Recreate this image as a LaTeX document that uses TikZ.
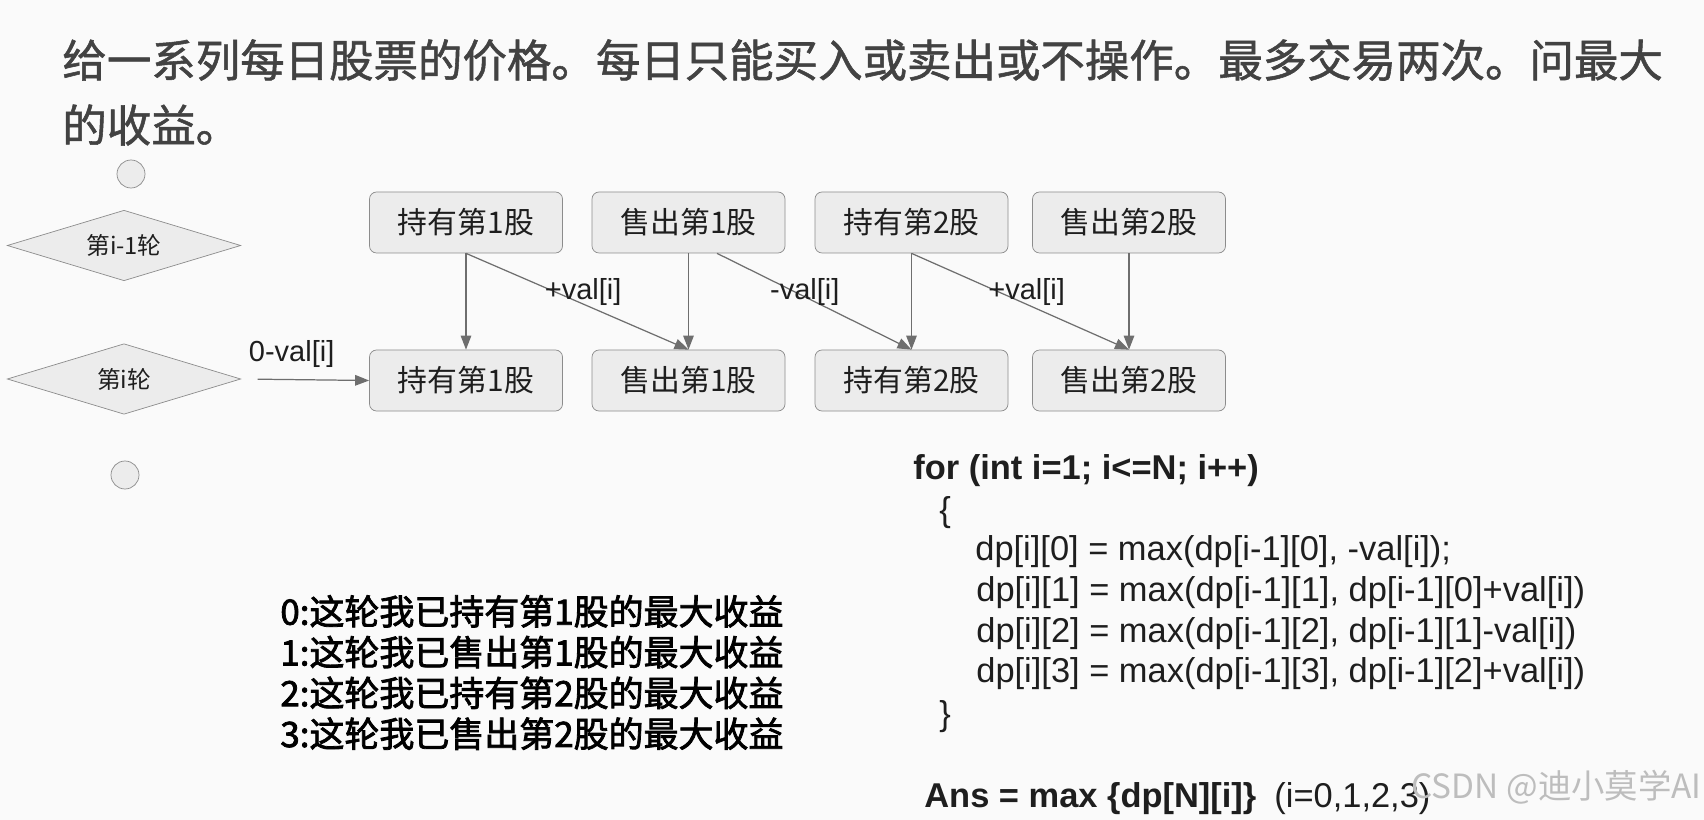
\documentclass[tikz,border=0pt]{standalone}
\usepackage{fontspec}
\setmainfont{Liberation Sans}
\newfontfamily\cjk{Noto Sans CJK SC}
\newfontfamily\cjkmid[FakeBold=1.2]{Noto Sans CJK SC}
\newfontfamily\cjkheavy[FakeBold=2.2]{Noto Sans CJK SC}
\usepackage{xcolor}
\usetikzlibrary{shapes.geometric,arrows.meta,positioning}
\definecolor{paper}{HTML}{FAFAFA}
\definecolor{boxfill}{HTML}{ECECEC}
\definecolor{boxline}{HTML}{8C8C8C}
\definecolor{edge}{HTML}{6E6E6E}
\definecolor{ink}{HTML}{1E1E1E}
\definecolor{headink}{HTML}{424242}
\definecolor{wmark}{HTML}{BDBDBD}

\begin{document}
\begin{tikzpicture}[
    stock/.style={rectangle, rounded corners=4pt, minimum width=3.86cm, minimum height=1.22cm, draw=boxline, fill=boxfill, text=ink, font=\cjk\fontsize{17}{20}\selectfont},
    phase/.style={diamond, aspect=3.3, minimum width=4.67cm, minimum height=1.41cm, inner sep=0pt, draw=boxline, fill=boxfill, text=ink, font=\cjk\fontsize{13.5}{16}\selectfont},
    endpt/.style={circle, minimum size=0.56cm, inner sep=0pt, draw=boxline, fill=boxfill},
    arrow/.style={-{Triangle[length=8pt,width=6pt]}, draw=edge, line width=0.7pt},
    lbl/.style={text=ink, inner sep=1pt, font=\fontsize{16.5}{19}\selectfont},
    code/.style={anchor=west, inner sep=0pt, text=ink, font=\fontsize{19.6}{23}\selectfont},
]
\fill[paper] (0,0) rectangle (34.08,-16.4);
\useasboundingbox (0,0) rectangle (34.08,-16.4);

% Question
\node[anchor=west, inner sep=0pt, text=headink, font=\cjkmid\fontsize{25.3}{30}\selectfont] (title1) at (1.24,-1.2) {给一系列每日股票的价格。每日只能买入或卖出或不操作。最多交易两次。问最大};
\node[anchor=west, inner sep=0pt, text=headink, font=\cjkmid\fontsize{25.3}{30}\selectfont] (title2) at (1.24,-2.5) {的收益。};

% Rounds
\node[endpt] (dotup) at (2.62,-3.48) {};
\node[phase] (prev) at (2.48,-4.91) {第i-1轮};
\node[phase] (cur) at (2.48,-7.58) {第i轮};
\node[endpt] (dotdown) at (2.5,-9.5) {};

% Round i-1
\node[stock] (hold1p) at (9.32,-4.45) {持有第1股};
\node[stock] (sell1p) at (13.77,-4.45) {售出第1股};
\node[stock] (hold2p) at (18.23,-4.45) {持有第2股};
\node[stock] (sell2p) at (22.58,-4.45) {售出第2股};

% Round i
\node[stock] (hold1) at (9.32,-7.61) {持有第1股};
\node[stock] (sell1) at (13.77,-7.61) {售出第1股};
\node[stock] (hold2) at (18.23,-7.61) {持有第2股};
\node[stock] (sell2) at (22.58,-7.61) {售出第2股};

% Transitions
\draw[arrow, shorten <=0.33cm] (cur.east) -- (hold1.west) node[lbl, midway, above=0.2cm, xshift=-0.27cm]{0-val[i]};
\draw[arrow] (hold1p) -- (hold1);
\draw[arrow] (sell1p) -- (sell1);
\draw[arrow] (hold2p) -- (hold2);
\draw[arrow] (sell2p) -- (sell2);
\draw[arrow] (hold1p.south) -- (sell1.north) node[lbl, pos=0.4, anchor=west, xshift=-0.25cm]{+val[i]};
\draw[arrow] ([xshift=0.57cm]sell1p.south) -- (hold2.north) node[lbl, pos=0.4, xshift=0.2cm]{-val[i]};
\draw[arrow] (hold2p.south) -- (sell2.north) node[lbl, pos=0.4, anchor=west, xshift=-0.25cm]{+val[i]};

% Meaning of the states
\node[anchor=west, align=left, inner sep=0pt, text=black, font=\cjkheavy\fontsize{19.9}{23.2}\selectfont] (legend) at (5.6,-13.45) {0:这轮我已持有第1股的最大收益\\1:这轮我已售出第1股的最大收益\\2:这轮我已持有第2股的最大收益\\3:这轮我已售出第2股的最大收益};

% Recurrence
\node[code, font=\bfseries\fontsize{19.6}{23}\selectfont] (loop) at (18.26,-9.41) {for (int i=1; i<=N; i++)};
\node[code] (open) at (18.78,-10.26) {\{};
\node[code] (dp0) at (19.5,-11.04) {dp[i][0] = max(dp[i-1][0], -val[i]);};
\node[code] (dp1) at (19.52,-11.86) {dp[i][1] = max(dp[i-1][1], dp[i-1][0]+val[i])};
\node[code] (dp2) at (19.52,-12.67) {dp[i][2] = max(dp[i-1][2], dp[i-1][1]-val[i])};
\node[code] (dp3) at (19.52,-13.48) {dp[i][3] = max(dp[i-1][3], dp[i-1][2]+val[i])};
\node[code] (close) at (18.78,-14.34) {\}};
\node[code] (ans) at (18.48,-15.98) {\textbf{Ans = max \{dp[N][i]\}}\hspace{0.36cm}(i=0,1,2,3)};

% Watermark
\node[anchor=east, inner sep=0pt, text=wmark, font=\cjk\fontsize{19}{22}\selectfont] (wm) at (34.04,-15.74) {CSDN @迪小莫学AI};
\end{tikzpicture}
\end{document}
